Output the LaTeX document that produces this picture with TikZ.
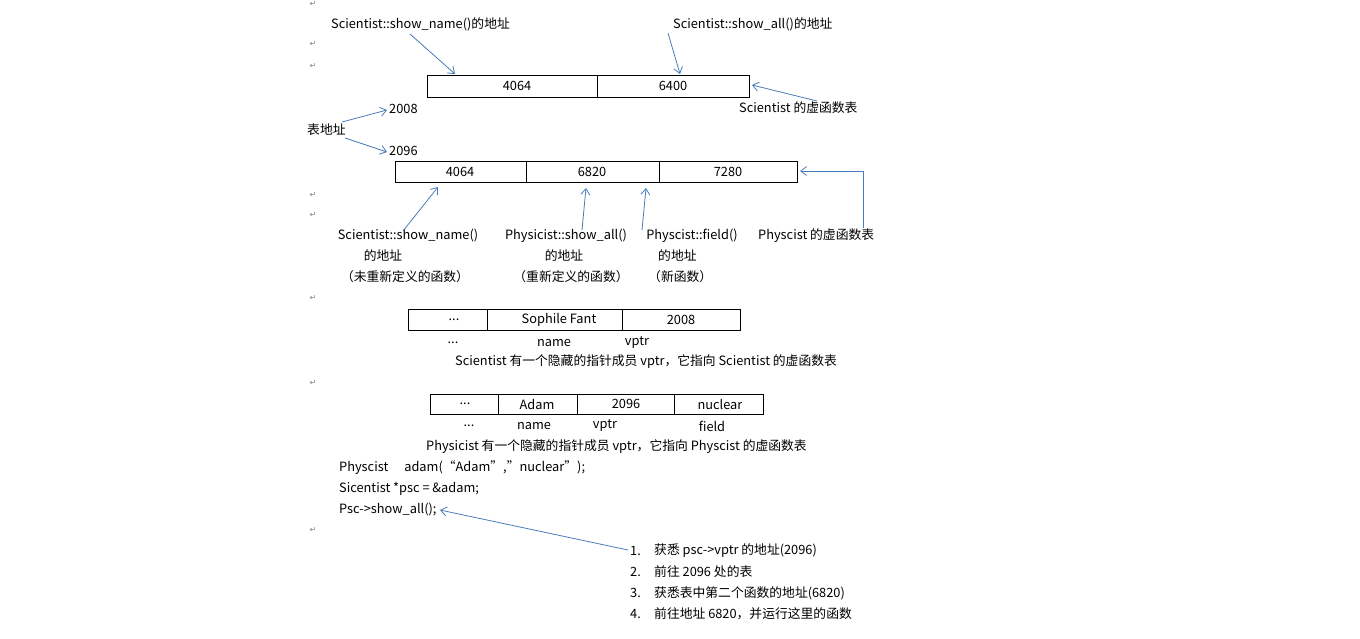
\documentclass[tikz,border=0pt]{standalone}
\usepackage{fontspec}
\usetikzlibrary{arrows.meta}
\setmainfont{Noto Sans CJK SC}
\newfontfamily\symf{DejaVu Sans}
\definecolor{arrc}{RGB}{74,126,187}
\begin{document}
\begin{tikzpicture}[x=1pt,y=-1pt,
  t/.style={inner sep=0pt,font=\fontsize{12.8}{14}\selectfont},
  tl/.style={t,anchor=west},
  cell/.style={draw,thick},
  arr/.style={draw=arrc,thick,-{Straight Barb[length=6pt,width=9pt]}},
  pm/.style={inner sep=0pt,font=\symf\fontsize{8}{9}\selectfont,text=gray}]
\useasboundingbox (0,0) rectangle (1360,638);
\fill[white] (0,0) rectangle (1360,638);
% paragraph marks
\foreach \yy in {4,44,66,195,215,298,383,530} \node[pm] at (313,\yy) {↵};
% table 1
\draw[cell] (427,75) rectangle (749,97); \draw[cell] (597,75)--(597,97);
\node[t] (a1) at (517,86) {4064}; \node[t] (a2) at (673,86) {6400};
\coordinate (t1a) at (455,74); \coordinate (t1b) at (680,74); \coordinate (t1r) at (752,85);
\node[tl] (l1) at (331,24) {Scientist::show\_name()的地址};
\node[tl] (l2) at (673,24) {Scientist::show\_all()的地址};
\node[tl] (l3) at (739,108) {Scientist 的虚函数表};
\draw[arr] (410,34) -- (t1a);
\draw[arr] (668,33) -- (t1b);
\draw[arr] (817,101) -- (t1r);
\node[tl] (n2008) at (389,109) {2008};
\node[tl] (bdz) at (307,130) {表地址};
\node[tl] (n2096) at (389,151) {2096};
\draw[arr] (342,122) -- (387,110);
\draw[arr] (345,138) -- (387,152);
% table 2
\draw[cell] (395,161) rectangle (797,182); \draw[cell] (526,161)--(526,182); \draw[cell] (659,161)--(659,182);
\node[t] at (460,172) {4064}; \node[t] at (592,172) {6820}; \node[t] at (728,172) {7280};
\node[t] (b1) at (408,236) {Scientist::show\_name()};
\node[t] at (383,256) {的地址};
\node[t] at (405,277) {（未重新定义的函数）};
\node[t] (b2) at (566,236) {Physicist::show\_all()};
\node[t] at (564,256) {的地址};
\node[t] at (571,277) {（重新定义的函数）};
\node[t] (b3) at (692,236) {Physcist::field()};
\node[tl] at (658,256) {的地址};
\node[tl] at (648,277) {（新函数）};
\node[tl] (b4) at (758,236) {Physcist 的虚函数表};
\draw[arr] (403,231) -- (438,187);
\draw[arr] (582,230) -- (586,188);
\draw[arr] (642,230) -- (646,188);
\draw[arr] (863,228) -- (863,171) -- (800,171);
% table 3
\draw[cell] (408,309) rectangle (740,330); \draw[cell] (487,309)--(487,330); \draw[cell] (622,309)--(622,330);
\node[t] at (454,320) {...}; \node[t] at (559,320) {Sophile Fant}; \node[t] at (681,320) {2008};
\node[t] at (453,343) {...}; \node[t] at (554,343) {name}; \node[t] at (637,343) {vptr};
\node[tl] at (455,362) {Scientist 有一个隐藏的指针成员 vptr，它指向 Scientist 的虚函数表};
% table 4
\draw[cell] (430,394) rectangle (763,414); \draw[cell] (498,394)--(498,414); \draw[cell] (577,394)--(577,414); \draw[cell] (674,394)--(674,414);
\node[t] at (465,404) {...}; \node[t] at (537,404) {Adam}; \node[t] at (626,404) {2096}; \node[t] at (720,404) {nuclear};
\node[t] at (469,426) {...}; \node[t] at (534,426) {name}; \node[t] at (605,426) {vptr}; \node[t] at (712,426) {field};
\node[tl] at (426,447) {Physicist 有一个隐藏的指针成员 vptr，它指向 Physcist 的虚函数表};
% code
\node[tl] at (339,468) {Physcist\hspace{16pt}adam(“Adam”,”nuclear”);};
\node[tl] at (339,489) {Sicentist *psc = \&adam;};
\node[tl] (code3) at (339,510) {Psc->show\_all();};
\coordinate (c3) at (440,510);
\draw[arr] (628,550) -- (c3);
% list
\foreach \n/\yy/\s in {1/551/获悉 psc->vptr 的地址(2096),2/572/前往 2096 处的表,3/593/获悉表中第二个函数的地址(6820),4/614/前往地址 6820，并运行这里的函数}{
  \node[tl] at (630,\yy) {\n.};
  \node[tl] at (654,\yy) {\s};
}
\end{tikzpicture}
\end{document}
